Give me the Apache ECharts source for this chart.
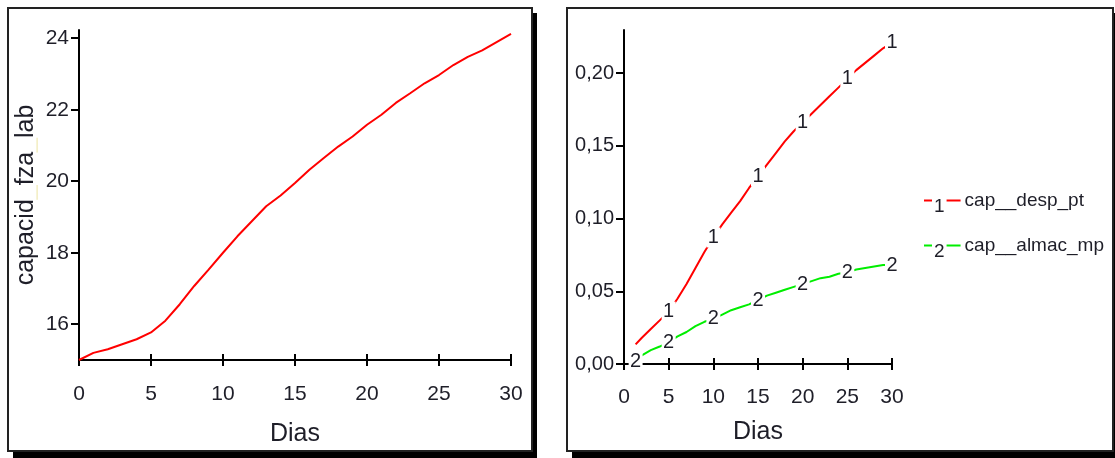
<!DOCTYPE html>
<html>
<head>
<meta charset="utf-8">
<script src="https://cdn.jsdelivr.net/npm/echarts@6/dist/echarts.min.js"></script>
<style>html,body{margin:0;padding:0;background:#fff;}#c{width:1115px;height:458px;}</style>
</head>
<body>
<div id="c"></div>
<script>
// ---- data ----
const leftDays = [0,1,2,3,4,5,6,7,8,9,10,11,12,13,14,15,16,17,18,19,20,21,22,23,24,25,26,27,28,29,30];
const capacidFzaLab = [15.0,15.2,15.3,15.44,15.58,15.77,16.1,16.56,17.07,17.53,18.0,18.46,18.88,19.3,19.6,19.95,20.32,20.65,20.97,21.25,21.58,21.86,22.19,22.46,22.74,22.97,23.25,23.48,23.66,23.89,24.12];
const leftXTicks = [0,5,10,15,20,25,30];
const leftYTicks = [16,18,20,22,24];

const rightDays = [1.3,2,3,4,5,6,7,8,9,10,11,12,13,14,15,16,17,18,19,20,21,22,23,24,25,26,27,28,29,30];
const capDespPt = [0.0135,0.018,0.024,0.030,0.036,0.045,0.055,0.066,0.077,0.087,0.096,0.104,0.112,0.121,0.129,0.137,0.145,0.153,0.160,0.166,0.172,0.178,0.184,0.190,0.196,0.202,0.207,0.212,0.217,0.221];
const capAlmacMp = [0.002,0.006,0.0095,0.012,0.015,0.019,0.022,0.026,0.029,0.031,0.034,0.037,0.039,0.041,0.044,0.047,0.049,0.051,0.053,0.055,0.057,0.059,0.060,0.062,0.063,0.065,0.066,0.067,0.068,0.068];
const markDays1 = [5,10,15,20,25,30];
const markDays2 = [1.3,5,10,15,20,25,30];
const rightXTicks = [0,5,10,15,20,25,30];
const rightYTicks = [0,0.05,0.10,0.15,0.20];
const rightYTickLabels = ['0,00','0,05','0,10','0,15','0,20'];
const seriesNames = ['cap__desp_pt','cap__almac_mp'];

// ---- chart ----
const FONT = "'Liberation Sans Narrow', 'Liberation Sans', Arial, sans-serif";
const TXT = '#1e1e28';
const zip = (xs, ys) => xs.map((x, i) => [x, ys[i]]);
const pick = (days, xs, ys) => days.map(d => [d, ys[xs.indexOf(d)]]);

const chart = echarts.init(document.getElementById('c'), null, {renderer: 'canvas'});

function xAx(grid, gap, margin, ticks) {
  return {
    gridIndex: grid, type: 'value', min: 0, max: 30, interval: 5, position: 'bottom',
    axisLine: {show: true, onZero: false, lineStyle: {color: '#000', width: 2}},
    axisTick: {show: true, length: 6, lineStyle: {color: '#000', width: 2}},
    axisLabel: {margin: margin, fontFamily: FONT, fontSize: 21, color: TXT,
      formatter: v => (ticks.indexOf(v) >= 0 ? String(v) : '')},
    splitLine: {show: false},
    name: 'Dias', nameLocation: 'middle', nameGap: gap,
    nameTextStyle: {fontFamily: FONT, fontSize: 25, color: TXT}
  };
}
function xAxInner(grid) {
  return {
    gridIndex: grid, type: 'value', min: 0, max: 30, interval: 5, position: 'bottom',
    axisLine: {show: false}, axisLabel: {show: false}, splitLine: {show: false},
    axisTick: {show: true, inside: true, length: 6, lineStyle: {color: '#000', width: 2}}
  };
}

const labelSeries = (name, data, txt) => ({
  name: name, type: 'scatter', xAxisIndex: 2, yAxisIndex: 1, z: 10,
  data: data, symbol: 'rect', symbolSize: [14, 20],
  itemStyle: {color: '#ffffff', opacity: 1},
  emphasis: {disabled: true},
  label: {show: true, position: 'inside', formatter: txt,
    fontFamily: FONT, fontSize: 20, color: TXT}
});

const option = {
  animation: false,
  backgroundColor: '#fff',
  graphic: [
    {type: 'rect', z: -10, shape: {x: 13, y: 13, width: 524, height: 445}, style: {fill: '#000'}},
    {type: 'rect', z: -9, shape: {x: 8, y: 8, width: 524, height: 443}, style: {fill: '#fff', stroke: '#222', lineWidth: 2}},
    {type: 'rect', z: -10, shape: {x: 572, y: 13, width: 560, height: 445}, style: {fill: '#000'}},
    {type: 'rect', z: -9, shape: {x: 567, y: 8, width: 546, height: 443}, style: {fill: '#fff', stroke: '#222', lineWidth: 2}}
  ],
  grid: [
    {left: 79, top: 30, width: 432, height: 330},
    {left: 624, top: 30, width: 268, height: 334}
  ],
  legend: {
    orient: 'vertical', left: 914, top: 186, itemGap: 20,
    icon: 'none', itemWidth: 0, itemHeight: 0, selectedMode: false,
    data: seriesNames,
    formatter: name => name === seriesNames[0]
      ? '{ra| }{n|1}{rb| }{t|' + name + '}'
      : '{ga| }{n|2}{gb| }{t|' + name + '}',
    textStyle: {
      fontFamily: FONT, color: TXT,
      rich: {
        ra: {width: 8, height: 2, backgroundColor: '#ff0000', verticalAlign: 'middle'},
        rb: {width: 14, height: 2, backgroundColor: '#ff0000', verticalAlign: 'middle'},
        ga: {width: 8, height: 2, backgroundColor: '#00ee00', verticalAlign: 'middle'},
        gb: {width: 14, height: 2, backgroundColor: '#00ee00', verticalAlign: 'middle'},
        n: {fontFamily: FONT, fontSize: 19, color: TXT, padding: [12, 2, 0, 2], verticalAlign: 'middle'},
        t: {fontFamily: FONT, fontSize: 19, color: TXT, padding: [0, 0, 0, 4], verticalAlign: 'middle'}
      }
    }
  },
  xAxis: [xAx(0, 62, 24, leftXTicks), xAxInner(0), xAx(1, 56, 23, rightXTicks), xAxInner(1)],
  yAxis: [
    {
      gridIndex: 0, type: 'value', min: 15, max: 24.23,
      axisLine: {show: true, onZero: false, lineStyle: {color: '#000', width: 2}},
      axisTick: {show: true, length: 8, customValues: leftYTicks, lineStyle: {color: '#000', width: 2}},
      axisLabel: {margin: 10, customValues: leftYTicks, fontFamily: FONT, fontSize: 21, color: TXT},
      splitLine: {show: false},
      name: '{a|capacid}{u|_}{a|fza}{u|_}{a|lab}', nameLocation: 'middle', nameGap: 40,
      nameTextStyle: {fontFamily: FONT, fontSize: 25, color: TXT,
        rich: {a: {fontFamily: FONT, fontSize: 25, color: TXT}, u: {fontFamily: FONT, fontSize: 25, color: '#f4efc8'}}}
    },
    {
      gridIndex: 1, type: 'value', min: 0, max: 0.2296,
      axisLine: {show: true, onZero: false, lineStyle: {color: '#000', width: 2}},
      axisTick: {show: true, length: 8, customValues: rightYTicks, lineStyle: {color: '#000', width: 2}},
      axisLabel: {margin: 10, customValues: rightYTicks, fontFamily: FONT, fontSize: 20, color: TXT,
        formatter: v => rightYTickLabels[rightYTicks.findIndex(t => Math.abs(t - v) < 1e-9)]},
      splitLine: {show: false}
    }
  ],
  series: [
    {
      name: 'capacid_fza_lab', type: 'line', xAxisIndex: 0, yAxisIndex: 0, z: 2,
      data: zip(leftDays, capacidFzaLab), symbol: 'none',
      lineStyle: {color: '#ff0000', width: 2}, itemStyle: {color: '#ff0000'}
    },
    {
      name: seriesNames[0], type: 'line', xAxisIndex: 2, yAxisIndex: 1, z: 2,
      data: zip(rightDays, capDespPt), symbol: 'none',
      lineStyle: {color: '#ff0000', width: 2}, itemStyle: {color: '#ff0000'}
    },
    {
      name: seriesNames[1], type: 'line', xAxisIndex: 2, yAxisIndex: 1, z: 2,
      data: zip(rightDays, capAlmacMp), symbol: 'none',
      lineStyle: {color: '#00ee00', width: 2}, itemStyle: {color: '#00ee00'}
    },
    labelSeries('lbl1', pick(markDays1, rightDays, capDespPt), '1'),
    labelSeries('lbl2', pick(markDays2, rightDays, capAlmacMp), '2')
  ]
};
chart.setOption(option);
</script>
</body>
</html>
